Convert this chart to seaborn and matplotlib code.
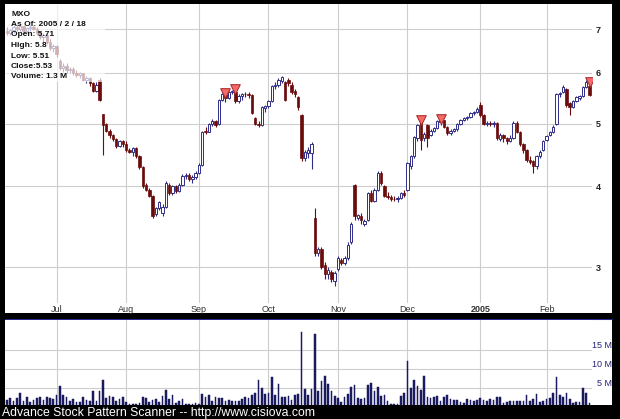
import numpy as np
import pandas as pd
import matplotlib
matplotlib.use("Agg")
import matplotlib.pyplot as plt
import matplotlib.transforms as mtransforms
from matplotlib.patches import Rectangle
from matplotlib.lines import Line2D
from matplotlib.ticker import NullLocator
import seaborn as sns

sns.set_style("white")
plt.rcParams["font.family"] = ["Liberation Sans", "DejaVu Sans"]

# ---------------- data ----------------
ticker = "MXO"
first_day = "2004-06-09"
last_day = "2005-02-18"
holidays = ["2004-06-11", "2004-07-05", "2004-09-06", "2004-11-25",
            "2004-12-24", "2005-01-17"]
month_labels = ["Jul", "Aug", "Sep", "Oct", "Nov", "Dec", "2005", "Feb"]
price_ticks = [3, 4, 5, 6, 7]
price_tick_labels = ["3", "4", "5", "6", "7"]
volume_ticks = [5, 10, 15]
volume_tick_labels = ["5 M", "10 M", "15 M"]
signal_days = [66, 69, 125, 131, 176]

opens = [6.95, 6.90, 6.98, 7.05, 7.00, 7.08, 6.95, 7.02, 7.05, 7.00,
         6.90, 6.80, 6.85, 6.70, 6.55, 6.60, 6.25, 6.10, 6.15, 6.05,
         6.08, 6.00, 5.95, 5.98, 5.85, 5.88, 5.78, 5.62, 5.85, 5.17,
         5.00, 4.88, 4.80, 4.73, 4.62, 4.70, 4.65, 4.55, 4.52, 4.58,
         4.45, 4.28, 4.02, 3.95, 3.87, 3.62, 3.70, 3.64, 3.72, 4.02,
         3.90, 4.00, 3.93, 4.02, 4.15, 4.17, 4.10, 4.13, 4.20, 4.32,
         4.88, 4.86, 5.00, 5.05, 5.00, 5.45, 5.55, 5.48, 5.60, 5.60,
         5.42, 5.52, 5.56, 5.55, 5.53, 5.10, 5.00, 4.98, 5.28, 5.32,
         5.42, 5.72, 5.75, 5.82, 5.80, 5.85, 5.75, 5.62, 5.50, 5.15,
         4.42, 4.50, 4.50, 3.58, 3.15, 3.20, 3.02, 2.93, 2.95, 2.86,
         2.98, 3.08, 3.04, 3.10, 3.28, 4.02, 3.58, 3.60, 3.50, 3.55,
         3.90, 3.80, 3.95, 4.20, 4.00, 3.87, 3.85, 3.83, 3.82, 3.84,
         3.90, 3.95, 4.30, 4.45, 4.75, 5.03, 4.75, 4.98, 4.80, 4.88,
         4.92, 5.03, 5.06, 4.95, 4.83, 4.88, 4.90, 5.00, 5.07, 5.10,
         5.12, 5.20, 5.22, 5.35, 5.15, 5.00, 5.02, 4.99, 5.02, 4.73,
         4.80, 4.75, 4.70, 4.76, 5.02, 4.86, 4.65, 4.55, 4.40, 4.38,
         4.30, 4.45, 4.55, 4.72, 4.80, 4.85, 5.00, 5.55, 5.60, 5.65,
         5.38, 5.30, 5.42, 5.48, 5.52, 5.70, 5.71]
highs = [7.05, 7.00, 7.10, 7.12, 7.15, 7.12, 7.05, 7.10, 7.12, 7.05,
         6.95, 6.90, 6.88, 6.75, 6.65, 6.62, 6.30, 6.20, 6.20, 6.12,
         6.12, 6.05, 6.02, 6.00, 5.92, 5.90, 5.80, 5.80, 5.88, 5.18,
         5.02, 4.90, 4.82, 4.75, 4.72, 4.72, 4.70, 4.58, 4.60, 4.60,
         4.47, 4.30, 4.05, 3.97, 3.88, 3.72, 3.80, 3.76, 4.07, 4.05,
         4.02, 4.02, 4.05, 4.18, 4.20, 4.20, 4.16, 4.22, 4.35, 4.88,
         4.95, 5.02, 5.08, 5.06, 5.47, 5.58, 5.58, 5.62, 5.64, 5.65,
         5.55, 5.58, 5.60, 5.60, 5.55, 5.12, 5.05, 5.32, 5.35, 5.45,
         5.75, 5.80, 5.88, 5.92, 5.82, 5.88, 5.80, 5.65, 5.52, 5.18,
         4.55, 4.60, 4.68, 3.70, 3.22, 3.22, 3.05, 3.00, 2.97, 2.96,
         3.12, 3.10, 3.12, 3.28, 3.52, 4.04, 3.63, 3.64, 3.56, 3.92,
         3.95, 3.98, 4.22, 4.22, 4.02, 3.92, 3.88, 3.86, 3.86, 3.92,
         3.95, 4.37, 4.47, 4.78, 5.00, 5.06, 4.85, 5.00, 4.90, 4.95,
         5.07, 5.08, 5.07, 4.96, 4.90, 4.93, 5.02, 5.09, 5.12, 5.14,
         5.22, 5.24, 5.30, 5.40, 5.17, 5.05, 5.04, 5.04, 5.03, 4.83,
         4.82, 4.77, 4.80, 5.05, 5.05, 4.88, 4.67, 4.57, 4.45, 4.40,
         4.48, 4.55, 4.72, 4.80, 4.88, 4.97, 5.57, 5.60, 5.75, 5.67,
         5.40, 5.45, 5.52, 5.54, 5.72, 5.85, 5.80]
lows = [6.85, 6.85, 6.92, 6.95, 6.95, 6.90, 6.90, 6.95, 6.98, 6.85,
        6.75, 6.70, 6.65, 6.50, 6.45, 6.35, 6.05, 6.02, 6.00, 5.98,
        5.95, 5.90, 5.88, 5.82, 5.78, 5.72, 5.60, 5.60, 5.42, 4.48,
        4.85, 4.76, 4.70, 4.58, 4.60, 4.60, 4.52, 4.50, 4.45, 4.42,
        4.25, 3.98, 3.93, 3.85, 3.58, 3.60, 3.68, 3.60, 3.70, 3.88,
        3.88, 3.90, 3.92, 4.00, 4.10, 4.08, 4.05, 4.10, 4.18, 4.30,
        4.82, 4.85, 4.96, 4.95, 4.98, 5.42, 5.40, 5.46, 5.56, 5.38,
        5.38, 5.45, 5.50, 5.48, 5.18, 4.98, 4.95, 4.96, 5.22, 5.28,
        5.40, 5.65, 5.70, 5.78, 5.42, 5.72, 5.55, 5.50, 5.25, 4.38,
        4.38, 4.42, 4.25, 3.12, 3.12, 2.98, 2.88, 2.88, 2.85, 2.80,
        2.96, 3.02, 3.02, 3.08, 3.26, 3.55, 3.55, 3.50, 3.47, 3.53,
        3.78, 3.78, 3.93, 4.02, 3.85, 3.82, 3.80, 3.80, 3.78, 3.82,
        3.85, 3.93, 4.25, 4.43, 4.70, 4.55, 4.70, 4.60, 4.78, 4.85,
        4.90, 4.98, 4.93, 4.80, 4.80, 4.85, 4.88, 4.98, 5.04, 5.06,
        5.10, 5.15, 5.20, 5.12, 4.98, 4.96, 4.96, 4.95, 4.72, 4.70,
        4.68, 4.66, 4.68, 4.74, 4.83, 4.62, 4.50, 4.36, 4.33, 4.20,
        4.25, 4.42, 4.53, 4.70, 4.78, 4.83, 4.98, 5.50, 5.58, 5.30,
        5.15, 5.28, 5.40, 5.45, 5.50, 5.68, 5.51]
closes = [6.90, 6.98, 7.05, 7.00, 7.08, 6.95, 7.02, 7.05, 7.00, 6.90,
          6.80, 6.85, 6.70, 6.55, 6.60, 6.40, 6.10, 6.15, 6.05, 6.08,
          6.00, 5.95, 5.98, 5.85, 5.88, 5.78, 5.62, 5.75, 5.45, 4.98,
          4.88, 4.80, 4.73, 4.62, 4.70, 4.65, 4.55, 4.52, 4.58, 4.45,
          4.28, 4.00, 3.95, 3.87, 3.60, 3.70, 3.78, 3.72, 4.05, 3.90,
          4.00, 3.93, 4.02, 4.15, 4.17, 4.10, 4.13, 4.20, 4.32, 4.85,
          4.86, 5.00, 5.05, 4.98, 5.45, 5.55, 5.48, 5.60, 5.61, 5.42,
          5.52, 5.56, 5.55, 5.53, 5.20, 5.00, 4.98, 5.30, 5.32, 5.42,
          5.72, 5.75, 5.85, 5.90, 5.45, 5.78, 5.60, 5.55, 5.30, 4.42,
          4.52, 4.55, 4.65, 3.15, 3.20, 3.00, 2.93, 2.97, 2.88, 2.94,
          3.10, 3.04, 3.10, 3.25, 3.50, 3.60, 3.61, 3.55, 3.53, 3.90,
          3.80, 3.95, 4.20, 4.05, 3.87, 3.85, 3.83, 3.82, 3.84, 3.90,
          3.88, 4.35, 4.45, 4.77, 4.98, 4.72, 4.82, 4.75, 4.88, 4.92,
          5.05, 5.06, 4.95, 4.83, 4.88, 4.90, 5.00, 5.07, 5.10, 5.12,
          5.20, 5.22, 5.27, 5.15, 5.00, 5.02, 4.99, 5.02, 4.75, 4.80,
          4.75, 4.70, 4.76, 5.02, 4.86, 4.65, 4.55, 4.40, 4.36, 4.30,
          4.45, 4.52, 4.70, 4.78, 4.85, 4.95, 5.55, 5.57, 5.70, 5.35,
          5.30, 5.42, 5.50, 5.52, 5.70, 5.80, 5.53]
volumes_m = [1.9, 2.4, 1.8, 2.4, 3.7, 1.8, 2.8, 1.5, 1.9, 2.4,
             2.7, 1.9, 2.7, 2.4, 2.1, 3.3, 5.6, 3.3, 2.7, 1.8,
             2.1, 1.5, 1.5, 2.7, 1.9, 1.6, 4.4, 1.8, 4.4, 7.2,
             2.4, 3.0, 2.7, 1.8, 2.1, 2.7, 1.5, 1.0, 1.0, 1.0,
             1.2, 2.7, 2.4, 1.5, 1.9, 2.1, 1.5, 3.0, 4.5, 2.1,
             3.3, 1.2, 1.8, 2.1, 1.0, 0.9, 1.0, 1.2, 0.9, 3.5,
             2.7, 3.3, 1.8, 2.7, 2.4, 2.4, 1.8, 1.9, 1.8, 1.8,
             1.8, 2.1, 2.7, 2.4, 3.3, 3.7, 7.2, 5.0, 3.5, 3.7,
             7.9, 3.3, 6.1, 2.7, 2.7, 3.0, 1.9, 3.3, 3.5, 19.7,
             4.7, 3.3, 4.8, 19.2, 4.2, 6.8, 8.2, 6.1, 4.2, 3.0,
             2.4, 1.5, 2.7, 3.5, 5.4, 5.9, 2.4, 2.1, 2.4, 5.9,
             6.5, 4.2, 5.4, 3.0, 3.3, 1.8, 1.0, 0.9, 1.0, 3.0,
             3.7, 12.0, 5.0, 7.2, 5.6, 4.5, 8.2, 2.7, 2.4, 2.7,
             3.0, 1.8, 2.7, 3.3, 2.1, 1.9, 1.9, 1.5, 1.2, 2.1,
             1.9, 1.8, 1.9, 2.4, 1.9, 1.8, 2.1, 1.9, 2.7, 2.7,
             1.2, 1.5, 1.8, 1.8, 1.8, 1.8, 1.6, 3.3, 1.8, 2.1,
             3.5, 1.5, 1.8, 2.1, 2.4, 3.9, 7.9, 3.3, 2.7, 3.9,
             2.1, 1.2, 1.5, 1.5, 5.2, 3.7, 1.3]

# ---------------- table ----------------
dates = pd.bdate_range(first_day, last_day)
dates = dates[~dates.isin(pd.to_datetime(holidays))]
n = len(closes)
df = pd.DataFrame({
    "day": np.arange(n),
    "date": dates[:n],
    "open": opens, "high": highs, "low": lows, "close": closes,
    "volume": volumes_m,
})
month_start = [i for i in range(1, n) if df["date"][i].month != df["date"][i - 1].month]

# ---------------- style ----------------
W, H = 620, 419
UP = "#2e2e8a"
DOWN = "#6a0c0c"
VOL = "#1a1a5e"
GRID = "#cdcdcd"
TRI_FACE = "#f26a6a"
TRI_EDGE = "#a82424"

def fx(px):
    return px / W

def fy(py):
    return 1 - py / H

fig = plt.figure(figsize=(W / 100, H / 100), dpi=100, facecolor="black")

# white panels
fig.add_artist(Rectangle((fx(5), fy(313)), fx(607), 309 / H, transform=fig.transFigure,
                         facecolor="white", edgecolor="none", zorder=-5))
fig.add_artist(Rectangle((fx(5), fy(405)), fx(607), 85 / H, transform=fig.transFigure,
                         facecolor="white", edgecolor="none", zorder=-5))
fig.add_artist(Line2D([fx(5), fx(612)], [fy(319.2)] * 2, transform=fig.transFigure,
                      color="#2a2a96", lw=0.75, zorder=-4))

# ---------------- price panel ----------------
ax = fig.add_axes([fx(5), fy(303), 587 / W, 299 / H])
ax.set_facecolor("white")
ax.set_yscale("log")

up = df[df["close"] >= df["open"]]
dn = df[df["close"] < df["open"]]
BODY_W = 0.72
ax.vlines(up["day"], up["low"], up["high"], color=UP, lw=0.8, zorder=2)
ax.vlines(dn["day"], dn["low"], dn["high"], color=DOWN, lw=0.8, zorder=2)
ax.bar(up["day"], np.maximum(up["close"] - up["open"], 0.006), bottom=up["open"],
       width=BODY_W, facecolor="white", edgecolor=UP, lw=0.7, zorder=3)
ax.bar(dn["day"], np.maximum(dn["open"] - dn["close"], 0.006), bottom=dn["close"],
       width=BODY_W, facecolor=DOWN, edgecolor=DOWN, lw=0.5, zorder=3)

sig = df.loc[signal_days]
sns.scatterplot(x=sig["day"], y=sig["high"], marker="v", s=48, color=TRI_FACE,
                edgecolor=TRI_EDGE, linewidth=0.7, zorder=5, ax=ax, legend=False)

ax.set_xlim(-0.6, 176.74)
ax.set_ylim(2.64, 7.66)
ax.set_yticks(price_ticks, labels=price_tick_labels)
ax.yaxis.set_minor_locator(NullLocator())
ax.yaxis.tick_right()
ax.set_xticks(month_start, labels=month_labels)
ax.tick_params(axis="y", length=0, pad=2.5, labelsize=6.5, labelcolor="#222222")
ax.tick_params(axis="x", length=0, pad=1.5, labelsize=6.5, labelcolor="#333333")
for lbl in ax.get_yticklabels():
    lbl.set_fontweight("bold")
for lbl in ax.get_xticklabels():
    if lbl.get_text().isdigit():
        lbl.set_fontweight("bold")
ax.grid(True, color=GRID, lw=0.8)
ax.set_axisbelow(True)
ax.set_xlabel("")
ax.set_ylabel("")
for s in ax.spines.values():
    s.set_visible(False)

# translucent info box
ax.add_patch(Rectangle((0, (303 - 82) / 299), 100 / 587, 78 / 299, transform=ax.transAxes,
                       facecolor="white", edgecolor="none", alpha=0.68, zorder=6))

last = df.iloc[-1]
d = last["date"]
info_lines = [
    ticker,
    f"As Of: {d.year} / {d.month} / {d.day}",
    f"Open: {last['open']:g}",
    f"High: {last['high']:g}",
    f"Low: {last['low']:g}",
    f"Close:{last['close']:g}",
    f"Volume: {last['volume']:g} M",
]
for k, line in enumerate(info_lines):
    fig.text(fx(11), fy(14 + 10.5 * k), line, fontsize=6, fontweight="bold",
             color="#111111", va="center", ha="left", zorder=8)

# ---------------- volume panel ----------------
axv = fig.add_axes([fx(5), fy(407.5), 587 / W, 87.5 / H])
axv.set_facecolor("white")
sns.barplot(data=df, x="day", y="volume", native_scale=True, width=0.5,
            color=VOL, saturation=1, errorbar=None, ax=axv,
            edgecolor=VOL, linewidth=0.35)
axv.set_xlim(-0.6, 176.74)
axv.set_ylim(0, 22.8)
axv.set_xticks(month_start, labels=[""] * len(month_start))
axv.set_yticks(volume_ticks, labels=[""] * len(volume_ticks))
axv.tick_params(length=0)
axv.grid(True, color=GRID, lw=0.8)
axv.set_axisbelow(True)
axv.set_xlabel("")
axv.set_ylabel("")
for s in axv.spines.values():
    s.set_visible(False)
trans = mtransforms.blended_transform_factory(axv.transAxes, axv.transData)
for v, lab in zip(volume_ticks, volume_tick_labels):
    axv.text(1.0 + 20 / 587, v, lab, transform=trans, ha="right", va="bottom",
             fontsize=6.5, color="#22227a", clip_on=False)

# ---------------- footer ----------------
fig.add_artist(Rectangle((0, 0), 1, 14 / H, transform=fig.transFigure,
                         facecolor="black", edgecolor="none", zorder=10))
fig.text(fx(2), fy(412.5), "Advance Stock Pattern Scanner -- http://www.cisiova.com",
         color="white", fontsize=8.8, va="center", ha="left", zorder=11)

fig.savefig("out.png", dpi=100, facecolor="black")
